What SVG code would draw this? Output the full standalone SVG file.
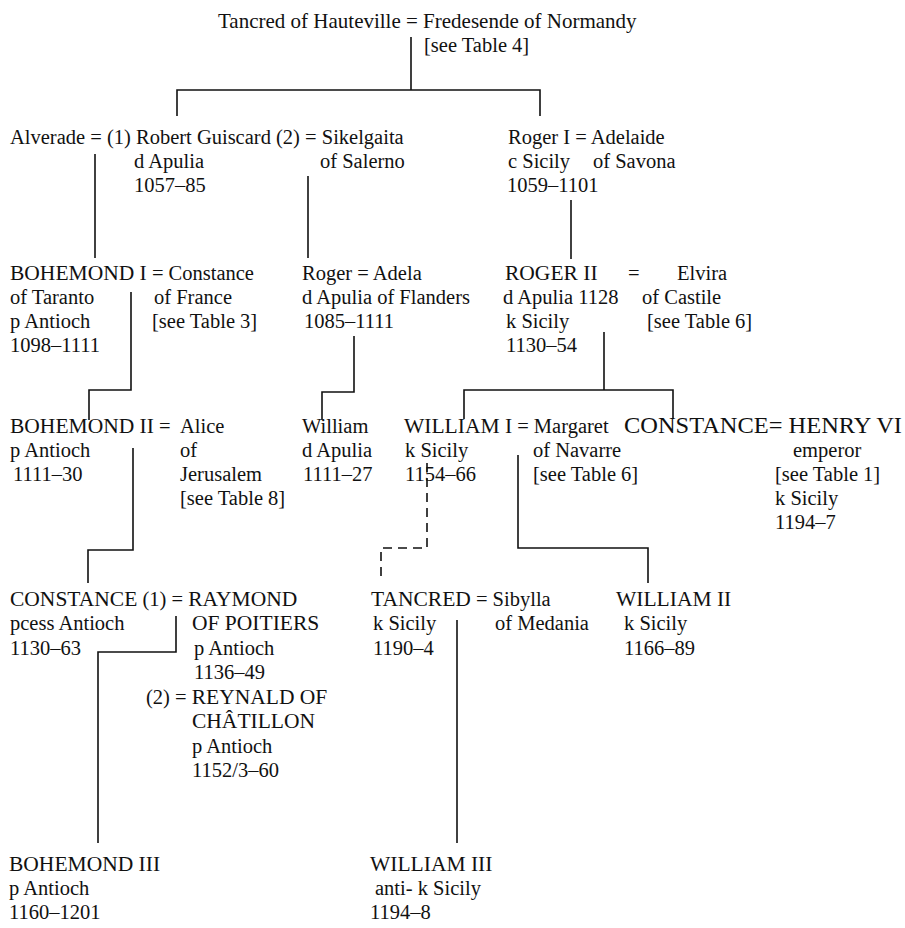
<svg xmlns="http://www.w3.org/2000/svg" width="905" height="928" viewBox="0 0 905 928">
<style>
text { font-family: "Liberation Serif", "Times New Roman", serif; font-size: 20.5px; fill: #111; }
.u { font-size: 21.5px; }
.big { font-size: 23px; }
.ln { fill: none; stroke: #111; stroke-width: 1.6; }
.dash { stroke-dasharray: 9 6; }
</style>
<rect width="905" height="928" fill="#fff"/>
<g id="connectors">
<path class="ln" d="M411 37 V90 M177 116 V90 H540 V116"/>
<path class="ln" d="M95 154 V258"/>
<path class="ln" d="M308 176 V258"/>
<path class="ln" d="M571 200 V259"/>
<path class="ln" d="M131 292 V390 H89 V420"/>
<path class="ln" d="M354 336 V392 H322 V420"/>
<path class="ln" d="M604 332 V390 M464 419 V390 H673 V419"/>
<path class="ln" d="M133 448 V550 H88 V583"/>
<path class="ln dash" d="M427 463 V548 H381 V578"/>
<path class="ln" d="M518 455 V548 H648 V583"/>
<path class="ln" d="M176 616 V652 H98 V843"/>
<path class="ln" d="M457 620 V843"/>
</g>
<g id="n-tancred-fredesende">
<text x="218" y="28" style="font-size:21px">Tancred of Hauteville = Fredesende of Normandy</text>
<text x="424" y="52">[see Table 4]</text>
</g>
<g id="n-robert-guiscard">
<text x="10" y="144">Alverade = (1) Robert Guiscard (2) = Sikelgaita</text>
<text x="134" y="168">d Apulia</text>
<text x="134" y="192">1057–85</text>
<text x="320" y="168">of Salerno</text>
</g>
<g id="n-roger-i">
<text x="508" y="144">Roger I = Adelaide</text>
<text x="508" y="168">c Sicily</text>
<text x="593" y="168">of Savona</text>
<text x="507" y="192">1059–1101</text>
</g>
<g id="n-bohemond-i">
<text x="10" y="280"><tspan class="u">BOHEMOND I</tspan> = Constance</text>
<text x="10" y="304">of Taranto</text>
<text x="154" y="304">of France</text>
<text x="10" y="328">p Antioch</text>
<text x="152" y="328">[see Table 3]</text>
<text x="10" y="352">1098–1111</text>
</g>
<g id="n-roger-apulia">
<text x="302" y="280">Roger = Adela</text>
<text x="302" y="304">d Apulia of Flanders</text>
<text x="304" y="328">1085–1111</text>
</g>
<g id="n-roger-ii">
<text class="u" x="505" y="280">ROGER II</text>
<text x="628" y="280">=</text>
<text x="677" y="280">Elvira</text>
<text x="503" y="304">d Apulia 1128</text>
<text x="642" y="304">of Castile</text>
<text x="506" y="328">k Sicily</text>
<text x="647" y="328">[see Table 6]</text>
<text x="506" y="352">1130–54</text>
</g>
<g id="n-bohemond-ii">
<text class="u" x="10" y="433">BOHEMOND II</text>
<text x="159" y="433">=</text>
<text x="180" y="433">Alice</text>
<text x="10" y="457">p Antioch</text>
<text x="13" y="481">1111–30</text>
<text x="180" y="457">of</text>
<text x="180" y="481">Jerusalem</text>
<text x="180" y="505">[see Table 8]</text>
</g>
<g id="n-william-apulia">
<text x="302" y="433">William</text>
<text x="302" y="457">d Apulia</text>
<text x="303" y="481">1111–27</text>
</g>
<g id="n-william-i">
<text x="404" y="433"><tspan class="u">WILLIAM I</tspan> = Margaret</text>
<text x="405" y="457">k Sicily</text>
<text x="405" y="481">1154–66</text>
<text x="533" y="457">of Navarre</text>
<text x="533" y="481">[see Table 6]</text>
</g>
<g id="n-constance-henry">
<text class="big" x="624" y="433" textLength="278" lengthAdjust="spacingAndGlyphs">CONSTANCE= HENRY VI</text>
<text x="793" y="457">emperor</text>
<text x="775" y="481">[see Table 1]</text>
<text x="775" y="505">k Sicily</text>
<text x="775" y="529">1194–7</text>
</g>
<g id="n-constance-antioch">
<text x="10" y="606"><tspan class="u">CONSTANCE</tspan> (1) = <tspan class="u">RAYMOND</tspan></text>
<text x="10" y="630">pcess Antioch</text>
<text class="u" x="192" y="630">OF POITIERS</text>
<text x="10" y="655">1130–63</text>
<text x="194" y="655">p Antioch</text>
<text x="194" y="679">1136–49</text>
<text x="146" y="704">(2) = <tspan class="u">REYNALD OF</tspan></text>
<text class="u" x="192" y="728">CHÂTILLON</text>
<text x="192" y="753">p Antioch</text>
<text x="192" y="777">1152/3–60</text>
</g>
<g id="n-tancred">
<text x="371" y="606"><tspan class="u">TANCRED</tspan> = Sibylla</text>
<text x="373" y="630">k Sicily</text>
<text x="495" y="630">of Medania</text>
<text x="373" y="655">1190–4</text>
</g>
<g id="n-william-ii">
<text class="u" x="616" y="606">WILLIAM II</text>
<text x="624" y="630">k Sicily</text>
<text x="624" y="655">1166–89</text>
</g>
<g id="n-bohemond-iii">
<text class="u" x="9" y="871">BOHEMOND III</text>
<text x="9" y="895">p Antioch</text>
<text x="9" y="919">1160–1201</text>
</g>
<g id="n-william-iii">
<text class="u" x="370" y="871">WILLIAM III</text>
<text x="375" y="895">anti- k Sicily</text>
<text x="370" y="919">1194–8</text>
</g>
</svg>
